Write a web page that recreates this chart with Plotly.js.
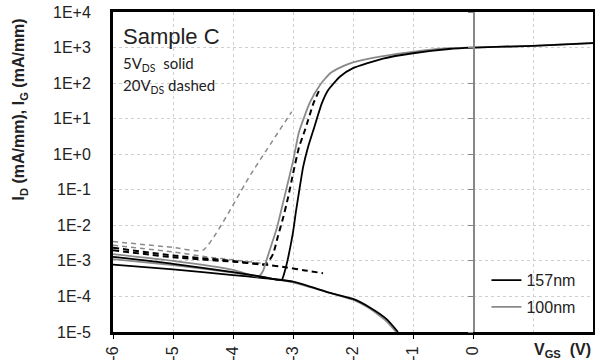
<!DOCTYPE html>
<html><head><meta charset="utf-8">
<script src="https://cdn.plot.ly/plotly-3.0.1.min.js"></script>
<style>html,body{margin:0;padding:0;background:#fff}#chart{width:595px;height:364px}</style>
</head><body><div id="chart"></div>
<script>
// ---- data (VGS in V, current in mA/mm) ----
const vBlackId5 = [-6,-5,-4,-3.5,-3.19,-3.13,-3.08,-3.0,-2.95,-2.88,-2.83,-2.75,-2.66,-2.52,-2.41,-2.22,-2.0,-1.5,-1.0,-0.4,0,1,2];
const iBlackId5 = [1.29e-3,8.3e-4,4.8e-4,3.55e-4,2.9e-4,5.6e-4,1.26e-3,6.3e-3,2.5e-2,0.141,0.447,1.58,4.8,26.9,64.6,151,263,490,692,912,1000,1120,1340];

const vGreyId5 = [-6,-5,-4,-3.58,-3.5,-3.45,-3.36,-3.27,-3.2,-3.1,-3.0,-2.9,-2.72,-2.55,-2.38,-2.2,-2.0,-1.5,-1.0,-0.4,0,1,2];
const iGreyId5 = [1.55e-3,1.0e-3,5.6e-4,3.6e-4,5.2e-4,9.5e-4,2.8e-3,8.3e-3,2.5e-2,0.126,0.63,4.2,28.2,89,190,282,385,575,759,955,1000,1120,1350];

const vBlackIg5 = [-6,-5,-4,-3.5,-3.19,-3.0,-2.7,-2.38,-2.0,-1.72,-1.44,-1.25];
const iBlackIg5 = [7.9e-4,5.8e-4,4.0e-4,3.3e-4,2.9e-4,2.6e-4,1.86e-4,1.26e-4,8.5e-5,4.9e-5,2.3e-5,1.0e-5];

const vGreyIg5 = [-6,-5,-4,-3.58,-3.2,-3.0,-2.7,-2.38,-2.0,-1.72,-1.44,-1.28];
const iGreyIg5 = [1.12e-3,7.6e-4,4.7e-4,3.6e-4,2.9e-4,2.5e-4,1.8e-4,1.26e-4,8.1e-5,4.6e-5,2.0e-5,1.0e-5];

const vBlackId20 = [-6,-5,-4,-3.47,-3.4,-3.33,-3.25,-3.16,-3.08,-3.0,-2.9,-2.8,-2.66,-2.56];
const iBlackId20 = [2.34e-3,1.41e-3,1.0e-3,7.9e-4,1.0e-3,1.58e-3,5.0e-3,1.74e-2,6.3e-2,0.28,1.58,4.8,26.9,64.6];

const vBlackIg20 = [-6,-5,-4,-3.47,-3.1,-2.8,-2.5];
const iBlackIg20 = [2.0e-3,1.26e-3,9.5e-4,7.9e-4,6.5e-4,5.4e-4,4.5e-4];

const vGreyId20 = [-6,-5,-4.5,-3.7,-3.02];
const iGreyId20 = [3.5e-3,2.4e-3,2.0e-3,0.28,15.8];

const vGreyIg20 = [-6,-5,-4.38,-4,-3.5];
const iGreyIg20 = [2.75e-3,1.78e-3,1.26e-3,1.07e-3,8.5e-4];

const yTickVals = [1e4,1e3,1e2,1e1,1e0,1e-1,1e-2,1e-3,1e-4,1e-5];
const yTickText = ['1E+4','1E+3','1E+2','1E+1','1E+0','1E-1','1E-2','1E-3','1E-4','1E-5'];
const xTickVals = [-6,-5,-4,-3,-2,-1,0];
const xTickText = ['-6','-5','-4','-3','-2','-1','0'];
const legendNames = ['157nm','100nm'];

// ---- styles ----
const BLACK = '#000000', GREY = '#8a8a8a';
function tr(x, y, color, width, dash, name, show, rank, group) {
  return {x: x, y: y, type: 'scatter', mode: 'lines', name: name || '', showlegend: !!show,
    legendrank: rank || 1000, legendgroup: group || undefined, hoverinfo: 'skip',
    line: {color: color, width: width, dash: dash || 'solid', shape: 'spline', smoothing: 0.5}};
}
const data = [
  tr(vGreyId20, iGreyId20, GREY, 1.5, '5px,4px'),
  tr(vGreyIg20, iGreyIg20, GREY, 1.5, '5px,4px'),
  tr(vBlackIg20, iBlackIg20, BLACK, 2, '6px,4px'),
  tr(vBlackId20, iBlackId20, BLACK, 2, '6px,4px'),
  tr(vGreyIg5, iGreyIg5, GREY, 1.8),
  tr(vBlackIg5, iBlackIg5, BLACK, 1.8),
  tr(vGreyId5, iGreyId5, GREY, 1.8, 'solid', legendNames[1], true, 2, 'g100'),
  tr(vBlackId5, iBlackId5, BLACK, 1.8, 'solid', legendNames[0], true, 1, 'g157'),
  // y-axis crossing line at x = 0 (tick marks only)
  {x: [0], y: [1], type: 'scatter', mode: 'markers', yaxis: 'y2', marker: {opacity: 0}, showlegend: false, hoverinfo: 'skip'}
];

const FONT = 'Liberation Sans, Arial, sans-serif';
const layout = {
  width: 595, height: 364,
  margin: {l: 113, r: 2, t: 12, b: 32, pad: 0},
  paper_bgcolor: '#fff', plot_bgcolor: '#fff',
  showlegend: true,
  legend: {x: 0.778, xanchor: 'left', y: 0.215, yanchor: 'top', bgcolor: 'rgba(0,0,0,0)',
    font: {family: FONT, size: 16, color: '#222'}, traceorder: 'grouped', tracegroupgap: 3,
    itemwidth: 30},
  xaxis: {type: 'linear', range: [-6, 2], tickvals: xTickVals, ticktext: xTickText, tickangle: -90,
    ticks: 'outside', ticklen: 4, tickcolor: '#000', tickwidth: 1,
    showgrid: true, gridcolor: '#cfcfcf', griddash: 'dot', gridwidth: 1,
    showline: true, mirror: true, linecolor: '#000', linewidth: 3, zeroline: false,
    tickfont: {family: FONT, size: 16, color: '#222'}, ticklabelstandoff: 1,
    minor: {dtick: 1, showgrid: true, gridcolor: '#cfcfcf', griddash: 'dot'}},
  yaxis: {type: 'log', range: [-5, 4], tickvals: yTickVals, ticktext: yTickText,
    ticks: '', showgrid: true, gridcolor: '#cfcfcf', griddash: 'dot', gridwidth: 1,
    showline: true, mirror: true, linecolor: '#000', linewidth: 3, zeroline: false,
    tickfont: {family: FONT, size: 16, color: '#222'}, ticklabelstandoff: 16},
  yaxis2: {type: 'log', range: [-5, 4], overlaying: 'y', anchor: 'free', position: 0.75, side: 'left',
    tickvals: yTickVals, showticklabels: false, ticks: 'outside', ticklen: 5, tickcolor: '#888',
    showgrid: false, showline: true, linecolor: '#888', linewidth: 1.5, zeroline: false},
  annotations: [
    {xref: 'paper', yref: 'paper', x: 0.017, y: 0.968, xanchor: 'left', yanchor: 'top', showarrow: false,
      text: 'Sample C', font: {family: FONT, size: 22, color: '#222'}},
    {xref: 'paper', yref: 'paper', x: 0.017, y: 0.875, xanchor: 'left', yanchor: 'top', showarrow: false,
      text: '5V<sub>DS</sub>  solid', font: {family: 'Lato, Open Sans, sans-serif', size: 15, color: '#222'}},
    {xref: 'paper', yref: 'paper', x: 0.017, y: 0.805, xanchor: 'left', yanchor: 'top', showarrow: false,
      text: '20V<sub>DS</sub> dashed', font: {family: 'Lato, Open Sans, sans-serif', size: 15, color: '#222'}},
    {xref: 'paper', yref: 'paper', x: -0.194, y: 0.695, xanchor: 'center', yanchor: 'middle', showarrow: false,
      textangle: -90, text: '<b>I<sub>D</sub> (mA/mm), I<sub>G</sub> (mA/mm)</b>',
      font: {family: FONT, size: 16, color: '#222'}},
    {xref: 'paper', yref: 'paper', x: 1.0, y: -0.058, xanchor: 'right', yanchor: 'middle', showarrow: false,
      text: '<b>V<sub>GS</sub>  (V)</b>', font: {family: FONT, size: 16, color: '#222'}}
  ]
};
Plotly.newPlot('chart', data, layout, {staticPlot: true, displayModeBar: false});
</script></body></html>
